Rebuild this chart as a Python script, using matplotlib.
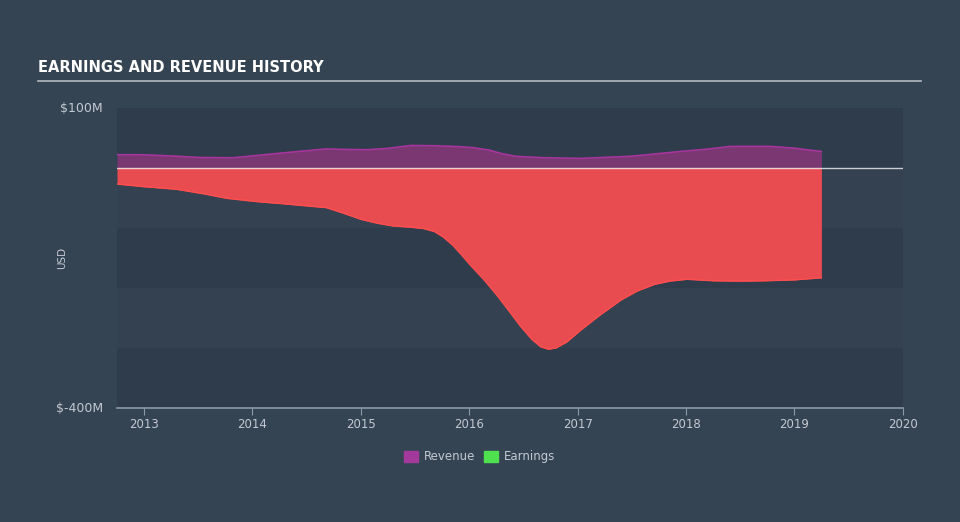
import numpy as np
import matplotlib.pyplot as plt

# values (years as decimals, USD millions)
rev_t = [2012.75, 2013.0, 2013.2, 2013.52, 2013.82, 2014.13, 2014.44, 2014.68, 2014.9,
         2015.06, 2015.24, 2015.46, 2015.7, 2015.92, 2016.03, 2016.18, 2016.3, 2016.43,
         2016.7, 2017.03, 2017.49, 2017.95, 2018.2, 2018.41, 2018.78, 2019.0, 2019.25]
revenue = [22.2, 22.0, 20.5, 17.5, 17.0, 22.5, 27.8, 31.8, 30.8,
           30.5, 32.5, 37.5, 37.0, 35.5, 34.0, 30.0, 24.0, 19.5,
           17.0, 16.0, 19.5, 27.5, 31.5, 36.0, 36.0, 33.0, 27.5]

earn_t = [2012.75, 2012.99, 2013.3, 2013.55, 2013.76, 2014.04, 2014.31, 2014.55, 2014.68,
          2014.85, 2015.0, 2015.15, 2015.3, 2015.45, 2015.58, 2015.68, 2015.76, 2015.85,
          2015.93, 2016.01, 2016.14, 2016.26, 2016.37, 2016.47, 2016.58, 2016.66, 2016.73,
          2016.8, 2016.9, 2017.03, 2017.2, 2017.4, 2017.55, 2017.71, 2017.85, 2018.01,
          2018.26, 2018.5, 2018.72, 2019.0, 2019.25]
earnings = [-26.7, -31.0, -35.5, -43.0, -50.5, -56.0, -60.0, -64.0, -66.0,
            -76.0, -85.5, -92.0, -96.7, -98.5, -101.0, -106.0, -115.0, -129.0,
            -145.0, -161.7, -187.0, -213.0, -239.0, -263.0, -286.0, -298.0, -302.0,
            -300.0, -290.0, -270.0, -246.0, -220.0, -205.0, -194.0, -188.5, -185.5,
            -188.0, -188.5, -188.0, -186.5, -183.0]

yticks = [100, -400]
ytick_labels = ['$100M', '$-400M']
xticks = [2013, 2014, 2015, 2016, 2017, 2018, 2019, 2020]

bg = '#354453'
band_dark = '#2f3c4c'
band_light = '#334150'
txt = '#c3c9d1'

fig = plt.figure(figsize=(9.6, 5.22), dpi=100, facecolor=bg)
ax = fig.add_axes([117 / 960, 1 - 408 / 522, (902.7 - 117) / 960, 300 / 522])
ax.set_facecolor(bg)

# horizontal bands
for i, lo in enumerate(range(-400, 100, 100)):
    ax.axhspan(lo, lo + 100, color=band_dark if i % 2 == 0 else band_light, lw=0, zorder=0)

ax.fill_between(rev_t, 0, revenue, color='#7a3772', lw=0, zorder=2)
ax.plot(rev_t, revenue, color='#a8359d', lw=1.2, zorder=3)
ax.fill_between(earn_t, 0, earnings, color='#e84c51', lw=0, zorder=2)
ax.plot(earn_t, earnings, color='#ff4e4e', lw=1.0, zorder=3)
ax.axhline(0, color='white', lw=1, alpha=0.75, zorder=4)

ax.set_xlim(2012.75, 2020.0)
ax.set_ylim(-400, 100)

for s in ['top', 'right', 'left']:
    ax.spines[s].set_visible(False)
ax.spines['bottom'].set_color('#8d99a8')
ax.spines['bottom'].set_linewidth(1.2)

ax.set_xticks(xticks)
ax.set_xticklabels([str(x) for x in xticks])
ax.tick_params(axis='x', colors='#8d99a8', labelcolor=txt, labelsize=8.5, length=5, pad=2)
ax.set_yticks([])

for v, lab in zip(yticks, ytick_labels):
    fig.text(103 / 960, 1 - (108 + (100 - v) * 0.6) / 522, lab, color=txt,
             fontsize=9, ha='right', va='center')
fig.text(62 / 960, 1 - 258 / 522, 'USD', color=txt, fontsize=7.5, rotation=90,
         ha='center', va='center')

# title and rule under it
fig.text(38 / 960, 1 - 68 / 522, 'EARNINGS AND REVENUE HISTORY', color='white',
         fontsize=10.5, fontweight='bold', family=['Liberation Sans Narrow', 'DejaVu Sans'],
         ha='left', va='center')
fig.add_artist(plt.Line2D([38 / 960, 921 / 960], [1 - 81 / 522, 1 - 81 / 522],
                          color='#b5b9bf', lw=1.2))

# legend
fig.patches.append(plt.Rectangle((404 / 960, 1 - 462 / 522), 14 / 960, 11 / 522,
                                 transform=fig.transFigure, color='#a33a9b'))
fig.text(424 / 960, 1 - 456.5 / 522, 'Revenue', color=txt, fontsize=8.5, va='center')
fig.patches.append(plt.Rectangle((484 / 960, 1 - 462 / 522), 14 / 960, 11 / 522,
                                 transform=fig.transFigure, color='#4fe04f'))
fig.text(504 / 960, 1 - 456.5 / 522, 'Earnings', color=txt, fontsize=8.5, va='center')

fig.savefig('out.png', dpi=100, facecolor=bg)
